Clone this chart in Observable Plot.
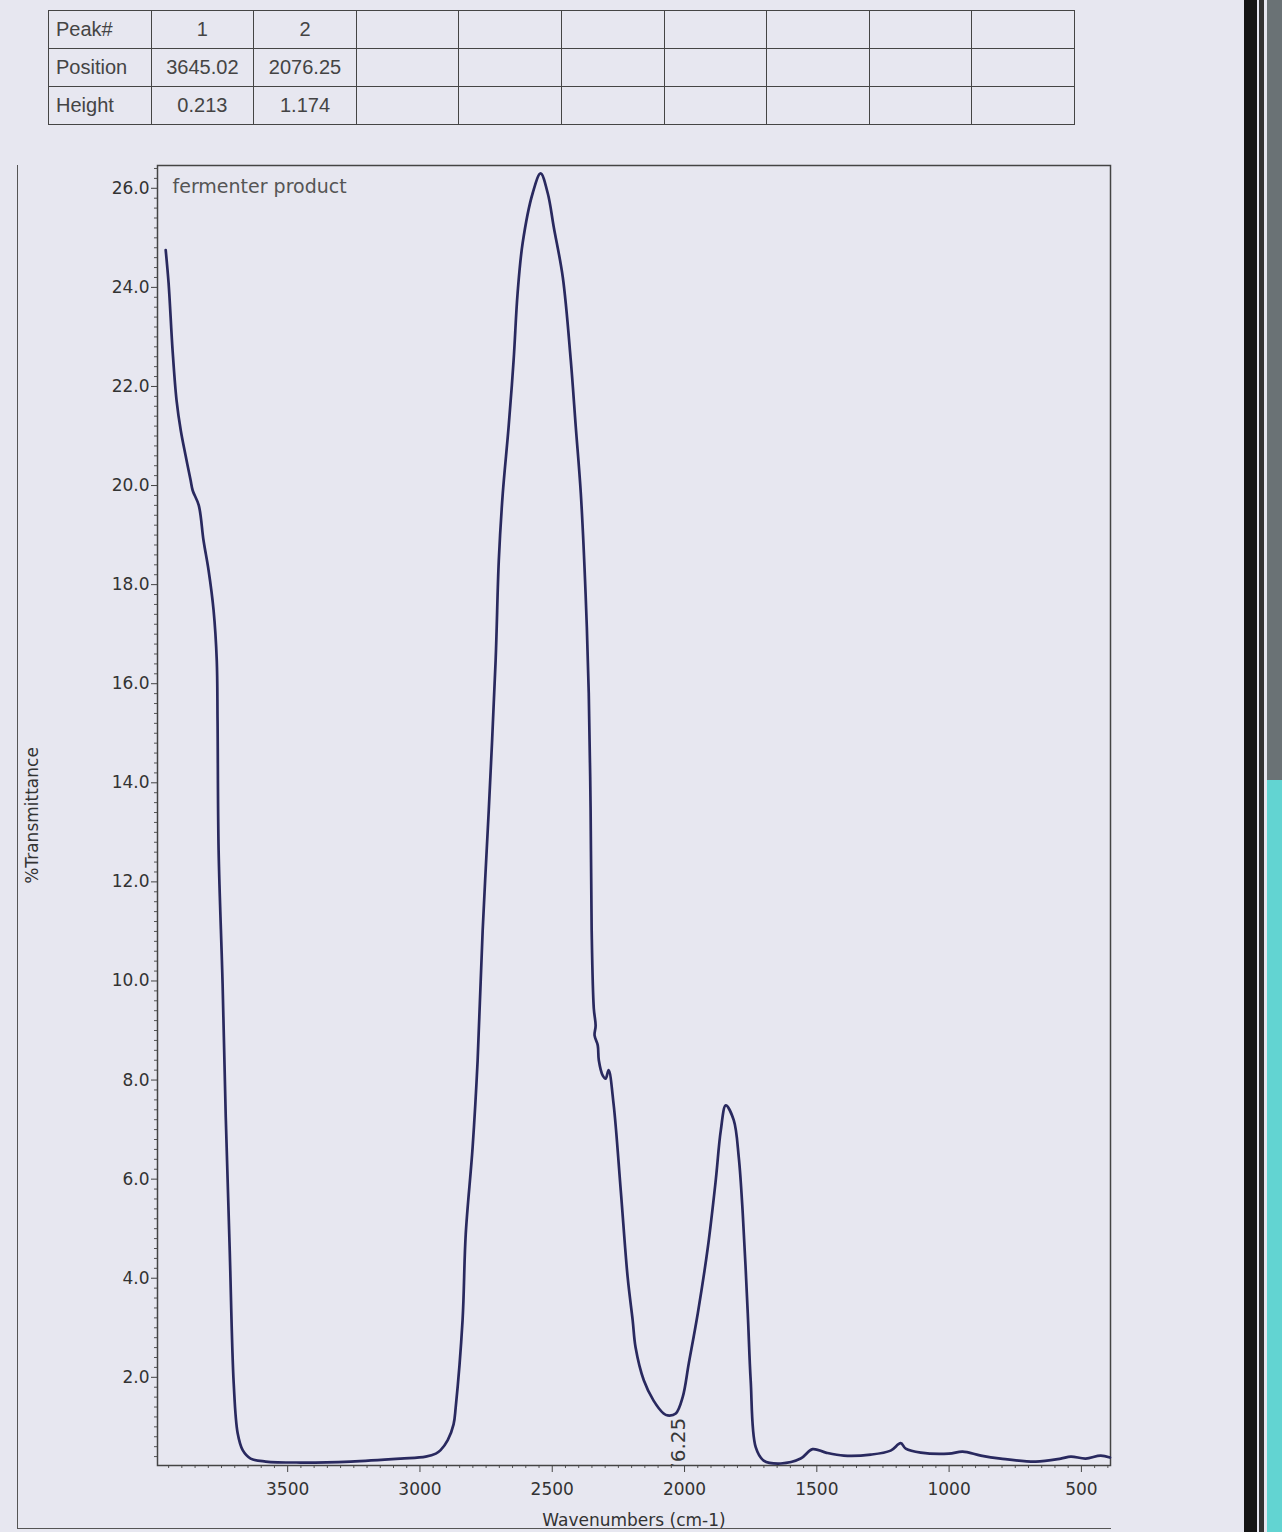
<!DOCTYPE html>
<html><head><meta charset="utf-8">
<script src="https://cdn.jsdelivr.net/npm/d3@7"></script>
<script src="https://cdn.jsdelivr.net/npm/@observablehq/plot@0.6"></script>
<style>
html,body{margin:0;padding:0;}
body{width:1282px;height:1532px;background:#e7e7f0;position:relative;overflow:hidden;font-family:"DejaVu Sans",sans-serif;}
#tbl{position:absolute;left:48px;top:10px;border-collapse:collapse;table-layout:fixed;width:1027px;font-family:"Liberation Sans",Arial,sans-serif;font-size:20px;color:#444;}
#tbl td{border:1.8px solid #454545;height:37px;padding:0;text-align:center;}
#tbl td:first-child{text-align:left;padding-left:7px;}
#chart{position:absolute;left:0;top:150px;}
#outer{position:absolute;left:17px;top:165px;width:1093px;height:1363px;border-left:1.5px solid #555;border-bottom:1.5px solid #555;}
.band{position:absolute;top:0;height:1532px;}
</style>
</head><body>
<table id="tbl"></table>
<div id="outer"></div>
<div id="chart"></div>
<div class="band" style="left:1244px;width:13px;background:#151515"></div>
<div class="band" style="left:1259px;width:5px;background:#333"></div>
<div class="band" style="left:1267px;width:15px;height:780px;background:#6a7275"></div>
<div class="band" style="left:1267px;top:780px;width:15px;height:752px;background:#62d4d2"></div>
<script>
// ---- data ----
const tableRowLabels = ["Peak#", "Position", "Height"];
const peakNumbers = [1, 2];
const peakPositions = [3645.02, 2076.25];
const peakHeights = [0.213, 1.174];
const tableColumns = 9; // data columns after row label

const wavenumber = [
  3961, 3950, 3935, 3920, 3904, 3886, 3867, 3859, 3836, 3818, 3799, 3780, 3768, 3765, 3761,
  3746, 3734, 3719, 3704, 3689, 3670, 3640, 3583, 3451, 3262, 3073, 2978, 2940,
  2922, 2895, 2873, 2865, 2839, 2827, 2801, 2782, 2763, 2740, 2714, 2702, 2687, 2665, 2646,
  2631, 2612, 2574, 2544, 2517, 2494, 2460, 2430, 2411, 2392, 2374, 2362, 2355, 2351, 2343,
  2336, 2340, 2328, 2324, 2309, 2298, 2287, 2268, 2241, 2215, 2196, 2185, 2154, 2117, 2079,
  2064, 2033, 2007, 1984, 1950, 1912, 1882, 1863, 1844, 1814, 1795, 1780, 1761, 1750, 1731,
  1701, 1636, 1561, 1516, 1466, 1398, 1296, 1221, 1183, 1164, 1107, 1001, 949, 880, 805,
  673, 578, 540, 484, 427, 392
];
const transmittance = [
  24.75, 24.08, 22.73, 21.72, 21.11, 20.61, 20.11, 19.90, 19.60, 18.89, 18.29, 17.48, 16.47, 15.26, 12.64,
  9.95, 7.25, 4.56, 1.88, 0.87, 0.53, 0.36, 0.30, 0.28, 0.30, 0.36, 0.40, 0.46,
  0.53, 0.73, 1.05, 1.39, 3.15, 4.89, 6.64, 8.40, 11.02, 13.44, 16.47, 18.49, 19.84, 21.18, 22.53,
  23.88, 24.89, 25.90, 26.30, 25.90, 25.21, 24.20, 22.53, 21.18, 19.84, 17.82, 15.81, 13.44, 11.02, 9.45,
  9.10, 8.90, 8.70, 8.40, 8.09, 8.03, 8.20, 7.51, 5.77, 4.02, 3.15, 2.60, 1.94, 1.53, 1.27,
  1.23, 1.27, 1.60, 2.28, 3.29, 4.62, 5.98, 6.98, 7.49, 7.19, 6.44, 5.31, 3.29, 1.94, 0.59,
  0.32, 0.26, 0.36, 0.55, 0.48, 0.42, 0.44, 0.52, 0.67, 0.56, 0.48, 0.46, 0.50, 0.42, 0.36,
  0.30, 0.36, 0.40, 0.36, 0.42, 0.38
];
const xTicks = [3500, 3000, 2500, 2000, 1500, 1000, 500];
const yTicks = [2, 4, 6, 8, 10, 12, 14, 16, 18, 20, 22, 24, 26];
const sampleName = "fermenter product";
const xLabel = "Wavenumbers (cm-1)";
const yLabel = "%Transmittance";

// ---- table ----
const tbl = document.getElementById("tbl");
const rowsData = [peakNumbers.map(String), peakPositions.map(v => v.toFixed(2)), peakHeights.map(v => v.toFixed(3))];
tableRowLabels.forEach((lab, r) => {
  const tr = document.createElement("tr");
  const th = document.createElement("td"); th.textContent = lab; tr.appendChild(th);
  for (let c = 0; c < tableColumns; c++) {
    const td = document.createElement("td");
    td.textContent = rowsData[r][c] ?? "";
    tr.appendChild(td);
  }
  tbl.appendChild(tr);
});

// ---- chart ----
const spectrum = wavenumber.map((x, i) => ({x, y: transmittance[i]}));
const minorY = d3.range(0.4, 26.41, 0.2).map(v => +v.toFixed(1)).filter(v => !yTicks.includes(v));
const minorX = d3.range(400, 3991, 50).filter(v => !xTicks.includes(v));
const peakLabels = [{x: peakPositions[1], label: peakPositions[1].toFixed(2)}];

const chart = Plot.plot({
  width: 1282, height: 1382,
  marginLeft: 157, marginRight: 172, marginTop: 15, marginBottom: 67,
  style: {background: "transparent", fontFamily: "DejaVu Sans, sans-serif", fontSize: "17px", color: "#333", overflow: "visible"},
  x: {domain: [3992, 390]},
  y: {domain: [0.22, 26.46]},
  marks: [
    Plot.axisY(minorY, {tickSize: 3, tickFormat: () => "", label: null, stroke: "#555"}),
    Plot.axisY(yTicks, {tickSize: 6, tickPadding: 2, tickFormat: d3.format(".1f"), label: yLabel, labelAnchor: "center", labelArrow: "none", labelOffset: 132, fontSize: 17, stroke: "#444"}),
    Plot.axisX(minorX, {tickSize: 3, tickFormat: () => "", label: null, stroke: "#555"}),
    Plot.axisX(xTicks, {tickSize: 7, tickPadding: 10, tickFormat: d3.format("d"), label: xLabel, labelAnchor: "center", labelArrow: "none", labelOffset: 60, fontSize: 17, stroke: "#444"}),
    Plot.frame({stroke: "#444", strokeWidth: 1.5}),
    Plot.line(spectrum, {x: "x", y: "y", stroke: "#29295f", strokeWidth: 2.7, curve: "catmull-rom"}),
    Plot.text([sampleName], {frameAnchor: "top-left", dx: 15, dy: 14, textAnchor: "start", fontSize: 19, fill: "#555"}),
    Plot.text(peakLabels, {x: "x", text: "label", frameAnchor: "bottom", dy: 35, dx: 14, rotate: -90, textAnchor: "start", lineAnchor: "middle", clip: true, fontSize: 20, fill: "#383838"})
  ]
});
document.getElementById("chart").appendChild(chart);
</script>
</body></html>
